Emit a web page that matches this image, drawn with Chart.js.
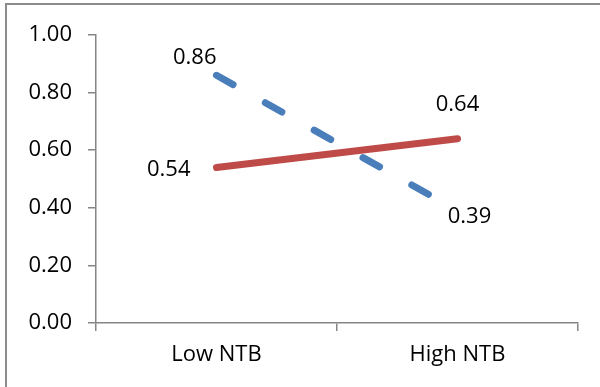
<!DOCTYPE html>
<html>
<head>
<meta charset="utf-8">
<script src="https://cdn.jsdelivr.net/npm/chart.js@4"></script>
<style>
    html, body { margin: 0; padding: 0; background: #fff; }
    #wrap { width: 600px; height: 387px; position: relative; }
</style>
</head>
<body>
<div id="wrap"><canvas id="ntbChart"></canvas></div>
<script>
// --- data ---
const categories = ['Low NTB', 'High NTB'];
const dashedValues = [0.86, 0.39];   // blue dashed series
const solidValues = [0.54, 0.64];    // red solid series
const yTicks = [0, 0.2, 0.4, 0.6, 0.8, 1.0];

const FONT = { family: 'Open Sans', size: 22 };
const AXIS_GRAY = '#868686';

// label offsets per point (dx, dy, align) - only styling
const labelPlacement = [
    [{ dx: 0, dy: -18, align: 'right' }, { dx: 12, dy: 6, align: 'center' }],
    [{ dx: -26, dy: 2, align: 'right' }, { dx: 0, dy: -34, align: 'center' }]
];

// simple data label + frame plugin (no datalabels plugin available offline)
const labelPlugin = {
    id: 'pointLabels',
    beforeDraw(chart) {
        const ctx = chart.ctx;
        ctx.save();
        ctx.strokeStyle = '#8c8c8c';
        ctx.lineWidth = 2;
        ctx.strokeRect(6, 4, 700, 500);
        ctx.restore();
    },
    afterDatasetsDraw(chart) {
        const ctx = chart.ctx;
        ctx.save();
        ctx.font = FONT.size + 'px "' + FONT.family + '"';
        ctx.fillStyle = '#000';
        ctx.textBaseline = 'middle';
        chart.data.datasets.forEach((ds, di) => {
            const meta = chart.getDatasetMeta(di);
            meta.data.forEach((pt, i) => {
                const p = labelPlacement[di][i];
                ctx.textAlign = p.align;
                ctx.fillText(ds.data[i].toFixed(2), pt.x + p.dx, pt.y + p.dy);
            });
        });
        ctx.restore();
    }
};

new Chart(document.getElementById('ntbChart'), {
    type: 'line',
    data: {
        labels: categories,
        datasets: [
            {
                label: 'Dashed',
                data: dashedValues,
                borderColor: '#4a7ebb',
                borderWidth: 7,
                borderDash: [19, 37],
                borderCapStyle: 'round',
                pointRadius: 0,
                fill: false
            },
            {
                label: 'Solid',
                data: solidValues,
                borderColor: '#be4b48',
                borderWidth: 7,
                borderCapStyle: 'round',
                pointRadius: 0,
                fill: false
            }
        ]
    },
    options: {
        responsive: true,
        maintainAspectRatio: false,
        animation: false,
        layout: { padding: { left: 0, top: 35, right: 22, bottom: 0 } },
        plugins: {
            legend: { display: false },
            tooltip: { enabled: false }
        },
        scales: {
            x: {
                offset: true,
                grid: { display: true, drawOnChartArea: false, offset: true, tickLength: 8, color: AXIS_GRAY, lineWidth: 1.5 },
                border: { display: true, color: AXIS_GRAY, width: 1.5 },
                ticks: { font: FONT, color: '#000', padding: 11, maxRotation: 0 },
                afterFit(scale) { scale.height = 387 - 323; }
            },
            y: {
                min: 0,
                max: 1,
                afterBuildTicks(scale) { scale.ticks = yTicks.map(v => ({ value: v })); },
                grid: { display: true, drawOnChartArea: false, tickLength: 8, color: AXIS_GRAY, lineWidth: 1.5 },
                border: { display: true, color: AXIS_GRAY, width: 1.5 },
                ticks: {
                    font: FONT,
                    color: '#000',
                    padding: 16,
                    callback: v => Number(v).toFixed(2)
                },
                afterFit(scale) { scale.width = 96; }
            }
        }
    },
    plugins: [labelPlugin]
});
</script>
</body>
</html>
